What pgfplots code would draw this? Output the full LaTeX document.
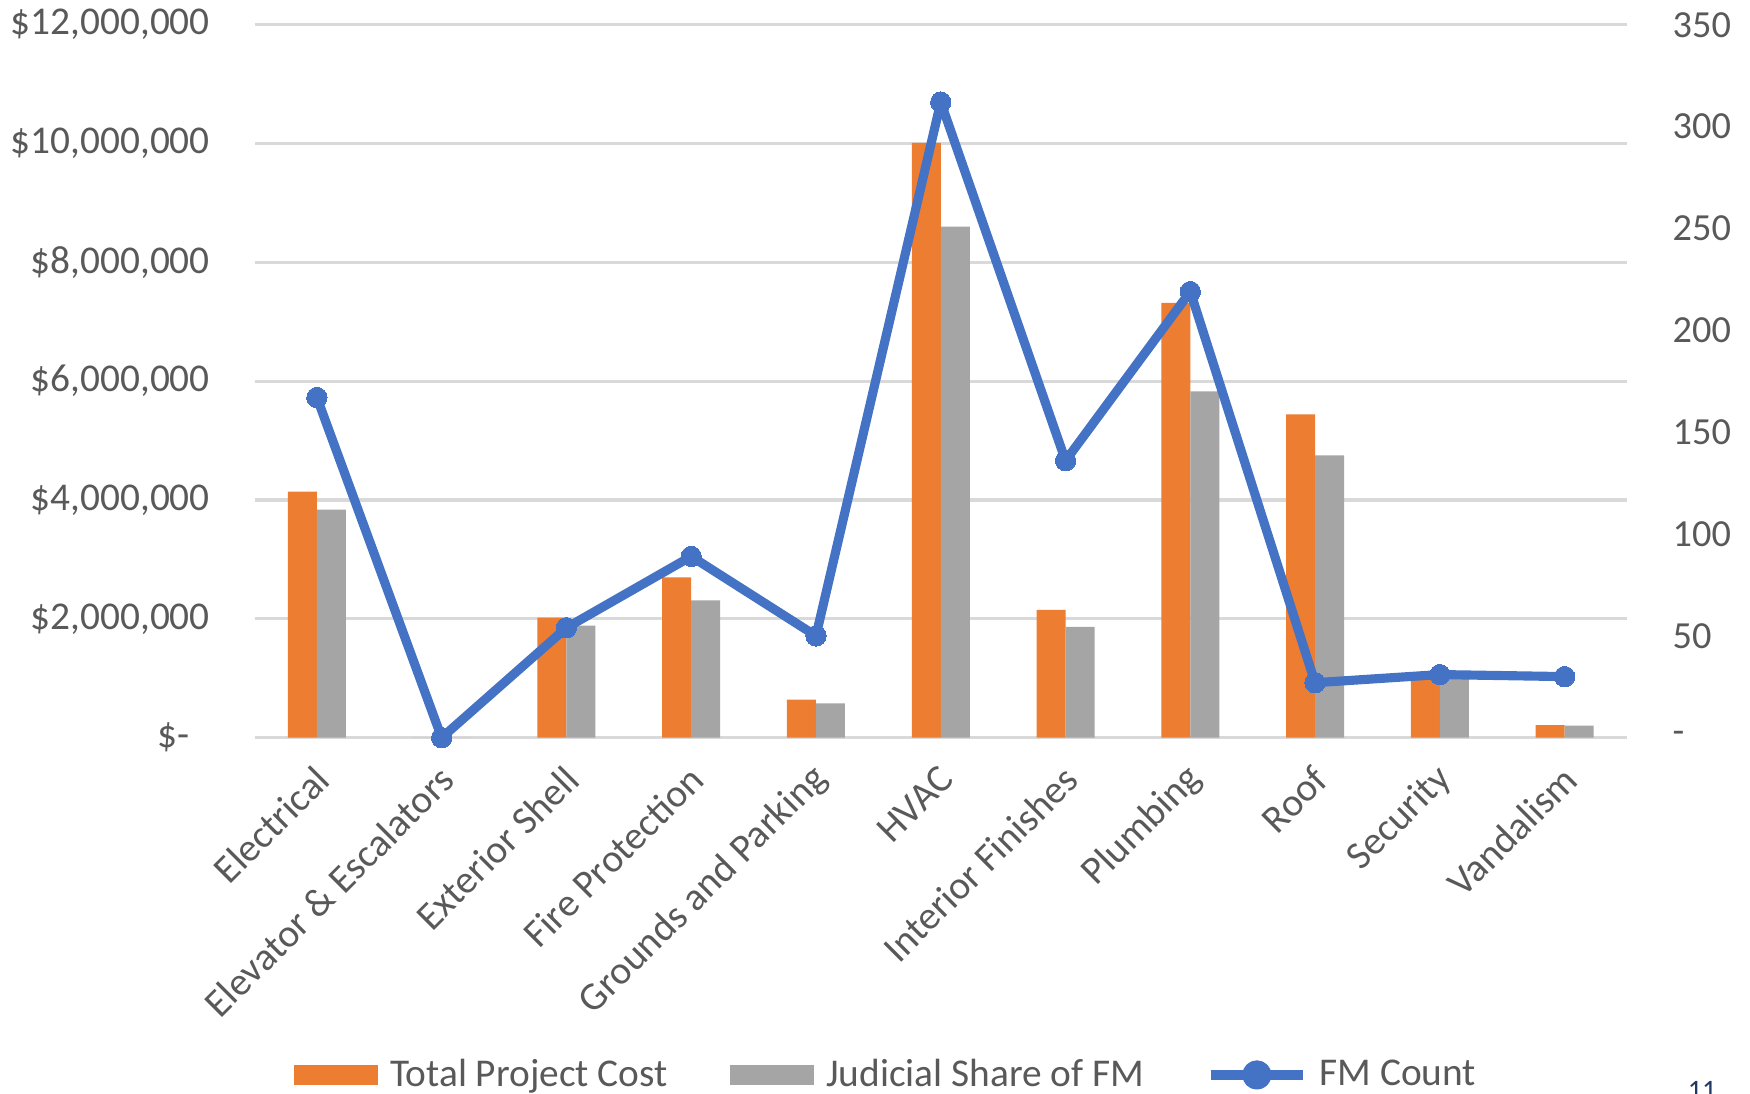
\documentclass[border=0pt]{standalone}
\usepackage{fontspec}
\setmainfont{Carlito}
\usepackage{pgfplots}
\usepackage{pgfplotstable}
\pgfplotsset{compat=1.18}

\definecolor{cOrange}{HTML}{ED7D31}
\definecolor{cGray}{HTML}{A5A5A5}
\definecolor{cBlue}{HTML}{4472C4}
\definecolor{cGrid}{HTML}{D9D9D9}
\definecolor{cText}{HTML}{595959}
\definecolor{cPage}{HTML}{1F3864}

% cost and share in dollars, count on the right axis
\pgfplotstableread{
x cost share count
0 4140000 3840000 167
1 0 0 0
2 2020000 1885000 54
3 2700000 2310000 89
4 643000 577000 50
5 10010000 8600000 312
6 2150000 1865000 136
7 7320000 5830000 219
8 5440000 4750000 27
9 1080000 1030000 31
10 210000 205000 30
}\datatable

\begin{document}
\begin{tikzpicture}
\useasboundingbox (0,0) rectangle (17.5cm,10.93cm);

\begin{axis}[
    at={(2.545cm,3.553cm)}, anchor=south west,
    scale only axis, width=13.725cm, height=7.13cm,
    xmin=-0.5, xmax=10.5,
    ymin=0, ymax=12000000,
    ybar=0pt, bar width=0.29cm,
    axis line style={draw=none},
    major tick length=0pt,
    scaled y ticks=false,
    xtick={0,1,2,3,4,5,6,7,8,9,10},
    xticklabels={Electrical, Elevator \& Escalators, Exterior Shell, Fire Protection,
        Grounds and Parking, HVAC, Interior Finishes, Plumbing, Roof, Security, Vandalism},
    xticklabel style={xshift=0.06cm, yshift=-0.35cm, rotate=45, anchor=east,
        inner sep=0pt, text=cText, font=\fontsize{11.2}{13}\selectfont},
    ytick={0,2000000,4000000,6000000,8000000,10000000,12000000},
    yticklabels={{\$-\rule{0.2cm}{0pt}},{\$2,000,000},{\$4,000,000},{\$6,000,000},
        {\$8,000,000},{\$10,000,000},{\$12,000,000}},
    yticklabel style={xshift=-0.44cm, inner sep=0pt, anchor=east, text=cText,
        font=\fontsize{11.2}{13}\selectfont},
    ymajorgrids,
    grid style={cGrid, line width=0.9pt},
]
\addplot[fill=cOrange, draw=none] table[x=x, y=cost] {\datatable};
\addplot[fill=cGray, draw=none] table[x=x, y=share] {\datatable};
\end{axis}

\begin{axis}[
    at={(2.545cm,3.553cm)}, anchor=south west,
    scale only axis, width=13.725cm, height=7.13cm,
    xmin=-0.5, xmax=10.5,
    ymin=0, ymax=350,
    axis x line=none,
    axis y line*=right,
    y axis line style={draw=none},
    major tick length=0pt,
    ytick={0,50,100,150,200,250,300,350},
    yticklabels={-,50,100,150,200,250,300,350},
    yticklabel style={xshift=0.45cm, inner sep=0pt, anchor=west, text=cText,
        font=\fontsize{10.9}{12}\selectfont},
    clip=false,
    legend style={at={(rel axis cs:0.028,-0.473)}, anchor=west,
        draw=none, fill=none, inner sep=0pt,
        text=cText, font=\fontsize{11.2}{13}\selectfont,
        nodes={inner xsep=0.12cm},
        /tikz/every even column/.append style={column sep=0.5cm}},
    legend columns=3,
    legend cell align=left,
]
\addlegendimage{legend image code/.code={\fill[cOrange] (0cm,-0.09cm) rectangle (0.83cm,0.09cm);}}
\addlegendentry{Total Project Cost}
\addlegendimage{legend image code/.code={\fill[cGray] (0cm,-0.09cm) rectangle (0.83cm,0.09cm);}}
\addlegendentry{Judicial Share of FM}
\addplot[cBlue, line width=2.6pt, line join=round, mark=*, mark size=2.9pt,
    mark options={fill=cBlue, draw=cBlue, line width=0pt},
    legend image code/.code={\draw[cBlue, line width=2.6pt] (0cm,0cm) -- (0.92cm,0cm);
        \fill[cBlue] (0.46cm,0cm) circle (0.1cm);}]
    table[x=x, y=count] {\datatable};
\addlegendentry{FM Count}
\end{axis}

\node[anchor=base, text=cPage, font=\fontsize{8}{9}\selectfont] at (17.02cm,-0.06cm) {11};
\end{tikzpicture}
\end{document}
